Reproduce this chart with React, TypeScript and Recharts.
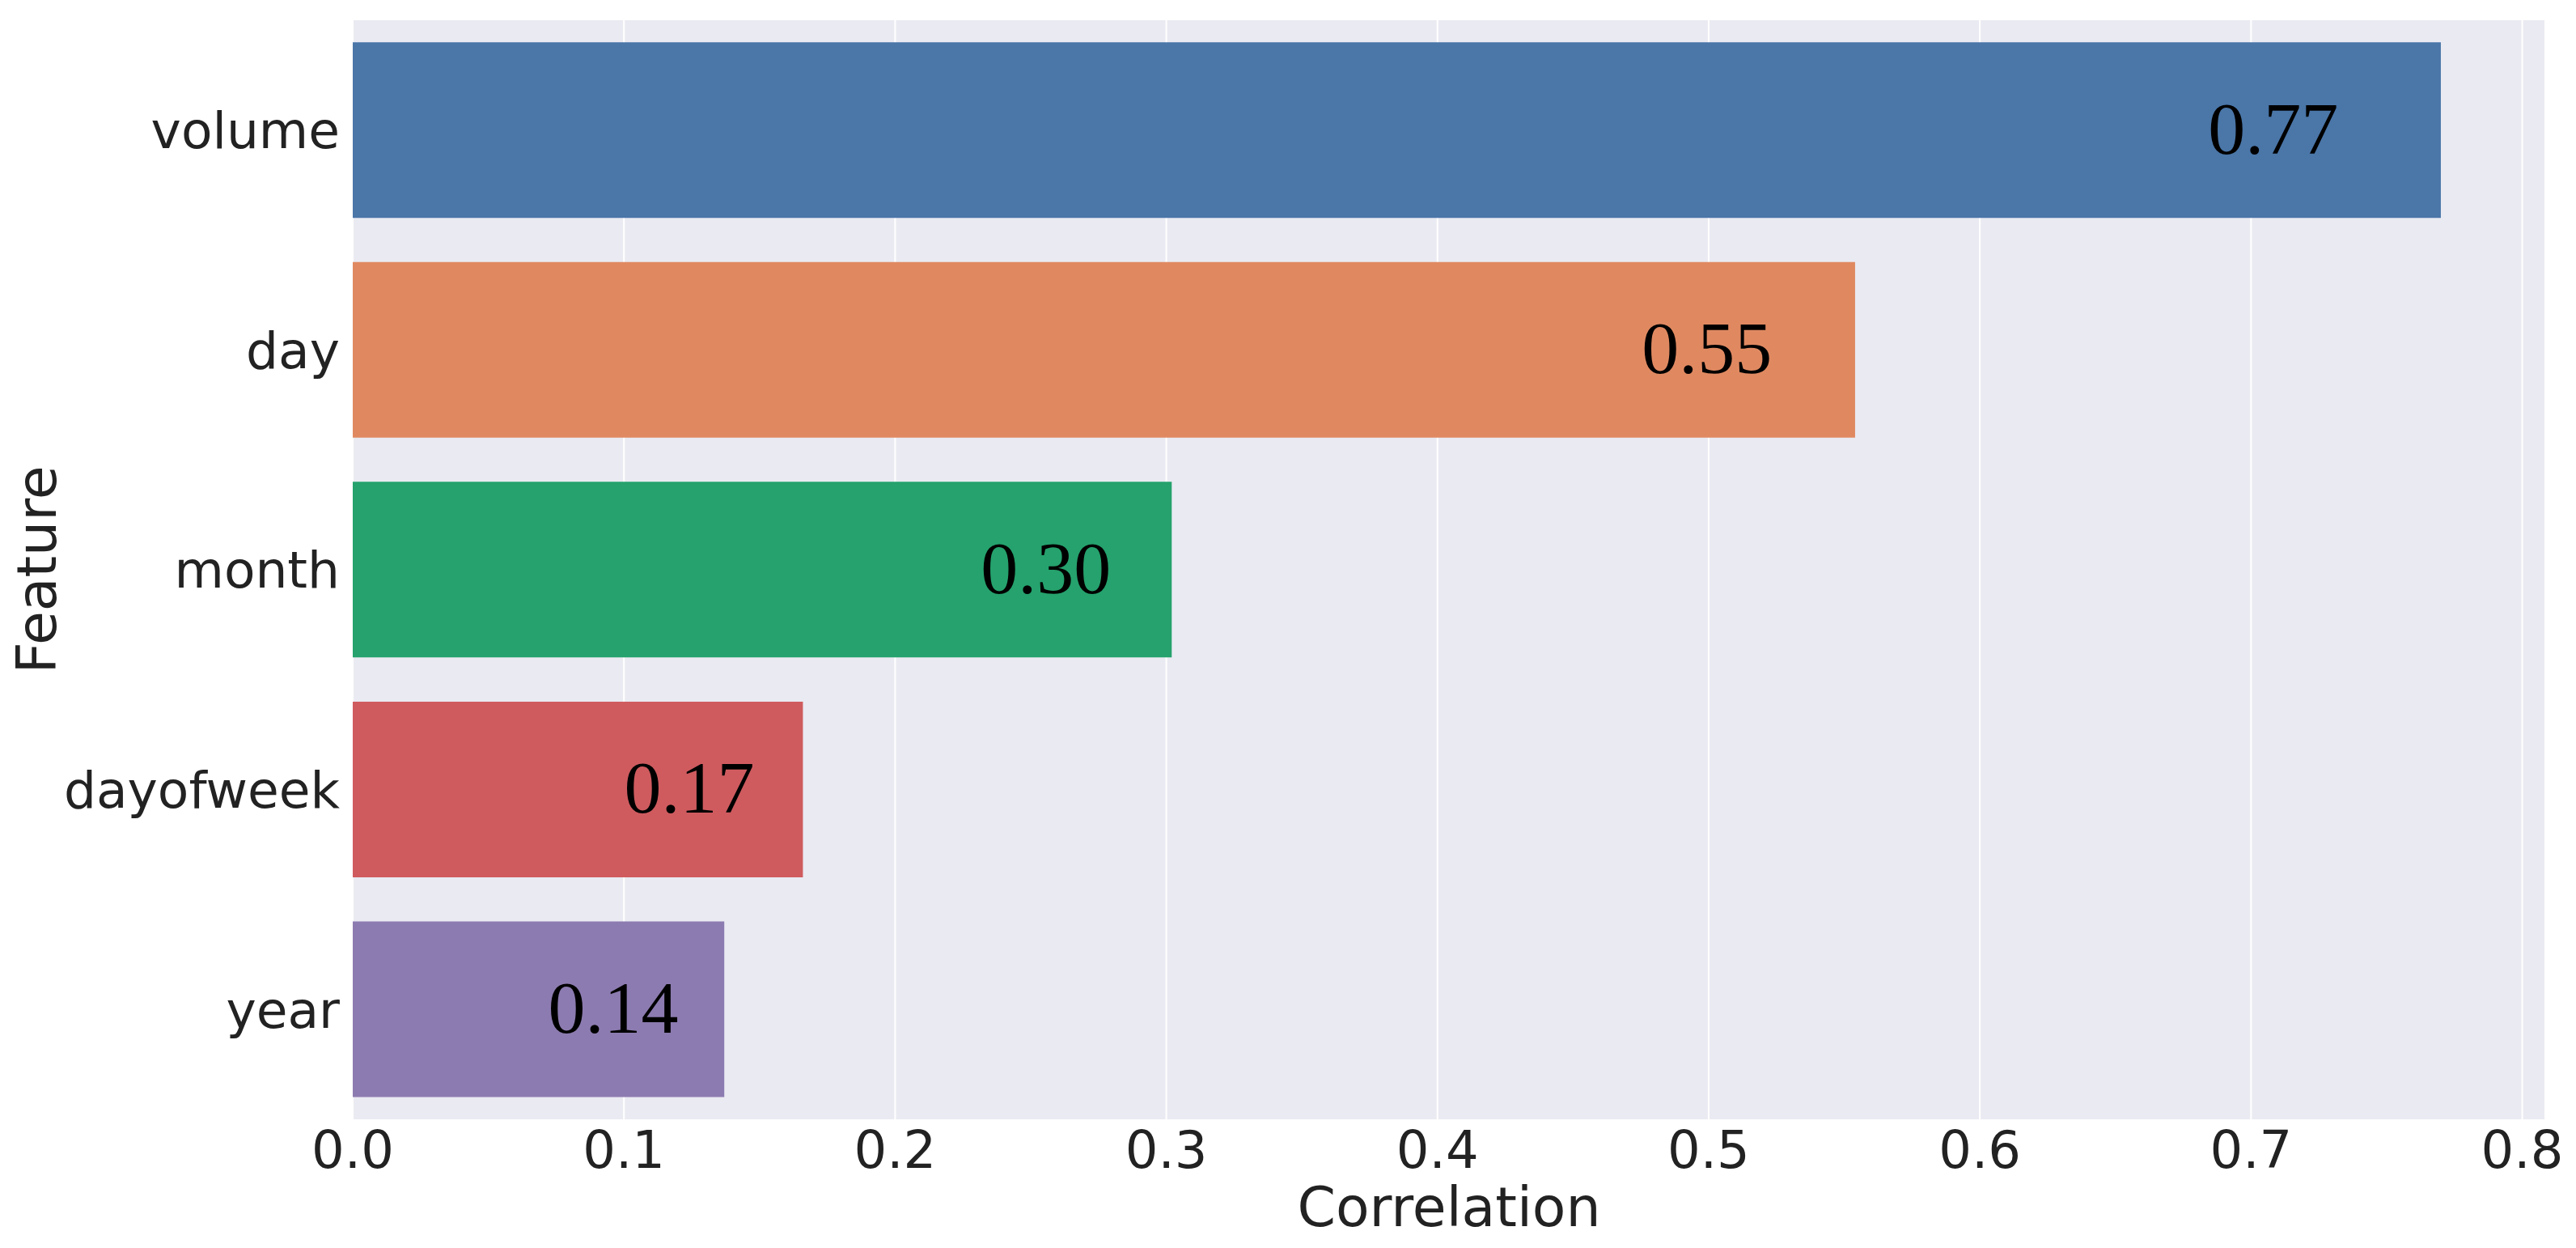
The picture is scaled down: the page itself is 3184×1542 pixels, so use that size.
import React from 'react';
import {
  BarChart,
  Bar,
  XAxis,
  YAxis,
  CartesianGrid,
  Cell,
  LabelList
} from 'recharts';

const features = ['volume', 'day', 'month', 'dayofweek', 'year'];
const correlations = [0.77, 0.554, 0.302, 0.166, 0.137];
const barColors = ['#4a76a8', '#e08961', '#25a26d', '#cf5b5f', '#8c7bb0'];
const xTicks = [0, 0.1, 0.2, 0.3, 0.4, 0.5, 0.6, 0.7, 0.8];

const data = features.map((feature, i) => ({ feature, corr: correlations[i] }));

const textColor = '#222222';
const sansFont = '"DejaVu Sans", sans-serif';

const ValueLabel = (props: any) => {
  const { x, y, width, height, value } = props;
  // annotation sits inside the bar, a bit before its end
  const cx = x + width - (122 + 0.033 * width);
  return (
    <text
      x={cx}
      y={y + height / 2 + 29}
      textAnchor="middle"
      fill="#000000"
      fontSize={92}
      fontFamily='"Liberation Serif", "Times New Roman", serif'
    >
      {Number(value).toFixed(2)}
    </text>
  );
};

const FeatureLabel = (props: any) => {
  const { viewBox } = props;
  const cy = viewBox.y + viewBox.height / 2;
  const bx = 69;
  return (
    <text
      x={bx}
      y={cy}
      transform={`rotate(-90, ${bx}, ${cy})`}
      textAnchor="middle"
      fill={textColor}
      fontSize={68}
      fontFamily={sansFont}
    >
      Feature
    </text>
  );
};

export default function App() {
  return (
    <div style={{ position: 'absolute', left: 0, top: 0, width: 3184, height: 1542, background: '#ffffff' }}>
      <BarChart
        width={3184}
        height={1542}
        data={data}
        layout="vertical"
        margin={{ top: 25, right: 38, left: 0, bottom: 0 }}
        barCategoryGap="10%"
      >
        <CartesianGrid
          horizontal={false}
          stroke="#ffffff"
          strokeWidth={2}
          fill="#eaeaf2"
          fillOpacity={1}
        />
        <XAxis
          type="number"
          domain={[0, 0.8085]}
          ticks={xTicks}
          height={159}
          axisLine={false}
          tickLine={false}
          tickSize={0}
          tickMargin={15}
          tickFormatter={(v: number) => v.toFixed(1)}
          tick={{ fill: textColor, fontSize: 64, fontFamily: sansFont }}
          label={{
            value: 'Correlation',
            position: 'insideBottom',
            offset: 27,
            fill: textColor,
            fontSize: 68,
            fontFamily: sansFont
          }}
        />
        <YAxis
          type="category"
          dataKey="feature"
          width={436}
          axisLine={false}
          tickLine={false}
          tickSize={0}
          tickMargin={16}
          tick={{ fill: textColor, fontSize: 63, fontFamily: sansFont }}
          label={<FeatureLabel />}
        />
        <Bar dataKey="corr" isAnimationActive={false}>
          {data.map((d, i) => (
            <Cell key={d.feature} fill={barColors[i]} />
          ))}
          <LabelList dataKey="corr" content={<ValueLabel />} />
        </Bar>
      </BarChart>
    </div>
  );
}
